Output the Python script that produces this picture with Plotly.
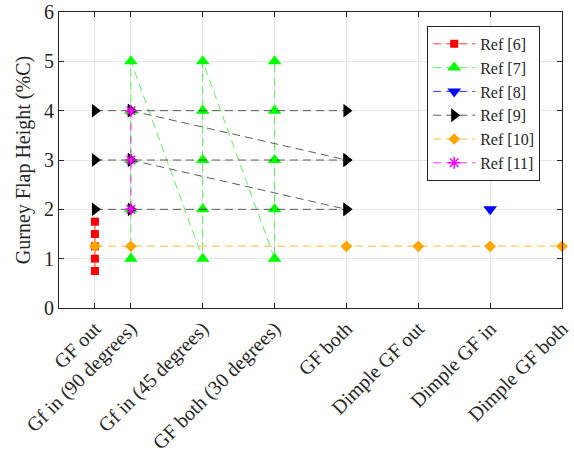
import plotly.graph_objects as go

categories = ["GF out", "Gf in (90 degrees)", "Gf in (45 degrees)", "GF both (30 degrees)",
              "GF both", "Dimple GF out", "Dimple GF in", "Dimple GF both"]
cat_pos = [0.5, 1, 2, 3, 4, 5, 6, 7]

ref6_x = [0.5, 0.5, 0.5, 0.5, 0.5]
ref6_y = [0.75, 1.0, 1.25, 1.5, 1.75]

ref7_x = [1, 1, 1, 1, 1, 2, 2, 2, 2, 2, 3, 3, 3, 3, 3]
ref7_y = [1, 2, 3, 4, 5, 1, 2, 3, 4, 5, 1, 2, 3, 4, 5]

ref8_x = [6]
ref8_y = [2]

ref9_x = [0.5, 1, 4, None, 1, 4, None, 0.5, 1, 4, None, 1, 4, None, 0.5, 1, 4]
ref9_y = [4, 4, 4, None, 4, 3, None, 3, 3, 3, None, 3, 2, None, 2, 2, 2]

ref10_x = [0.5, 1, 4, 5, 6, 7]
ref10_y = [1.25, 1.25, 1.25, 1.25, 1.25, 1.25]

ref11_x = [1, 1, 1]
ref11_y = [2, 3, 4]

font = "Liberation Serif, Times New Roman, serif"
txt = "#262626"

fig = go.Figure()

def add(name, x, y, lcolor, mcolor, symbol, size, lw=0.8, mline=None, dash="8px,5px"):
    marker = dict(symbol=symbol, size=size, color=mcolor)
    if mline:
        marker["line"] = dict(color=mcolor, width=mline)
    fig.add_trace(go.Scatter(x=x, y=y, name=name, mode="lines+markers",
                             line=dict(color=lcolor, width=lw, dash=dash),
                             marker=marker, connectgaps=False, cliponaxis=False))

add("Ref [6]", ref6_x, ref6_y, "#ff0000", "#ff0000", "square", 8)
add("Ref [7]", ref7_x, ref7_y, "#33ee33", "#00ff00", "triangle-up", 12)
add("Ref [8]", ref8_x, ref8_y, "#0000ff", "#0000ff", "triangle-down", 12)
add("Ref [9]", ref9_x, ref9_y, "#333333", "#000000", "triangle-right", 12)
add("Ref [10]", ref10_x, ref10_y, "#ffd080", "#ffa500", "diamond", 9, lw=1.5)
add("Ref [11]", ref11_x, ref11_y, "#ff00ff", "#ff00ff", "asterisk-open", 10, mline=1.5)

axis_common = dict(showline=True, linecolor=txt, linewidth=1, mirror="ticks",
                   ticks="inside", ticklen=5, tickcolor=txt, automargin=False,
                   showgrid=True, gridcolor="#e6e6e6", gridwidth=1, zeroline=False,
                   tickfont=dict(family=font, size=20, color=txt))

fig.update_layout(
    width=574, height=462,
    margin=dict(l=59, r=12, t=12, b=154),
    plot_bgcolor="white", paper_bgcolor="white",
    font=dict(family=font, size=19, color=txt),
    xaxis=dict(range=[0, 7], tickvals=cat_pos, ticktext=categories, tickangle=-45,
               **axis_common),
    yaxis=dict(range=[0, 6], tickvals=[0, 1, 2, 3, 4, 5, 6], **axis_common,
               title=dict(text="Gurney Flap Height (%C)", font=dict(family=font, size=20, color=txt),
                          standoff=8)),
    legend=dict(x=0.732, y=0.953, xanchor="left", yanchor="top",
                bgcolor="white", bordercolor=txt, borderwidth=1,
                font=dict(family=font, size=16, color=txt),
                tracegroupgap=0, itemwidth=42),
    showlegend=True,
)

fig.write_html("out.html", config={"displayModeBar": False},
               post_script="document.body.style.margin='0';document.body.style.overflow='hidden';")
